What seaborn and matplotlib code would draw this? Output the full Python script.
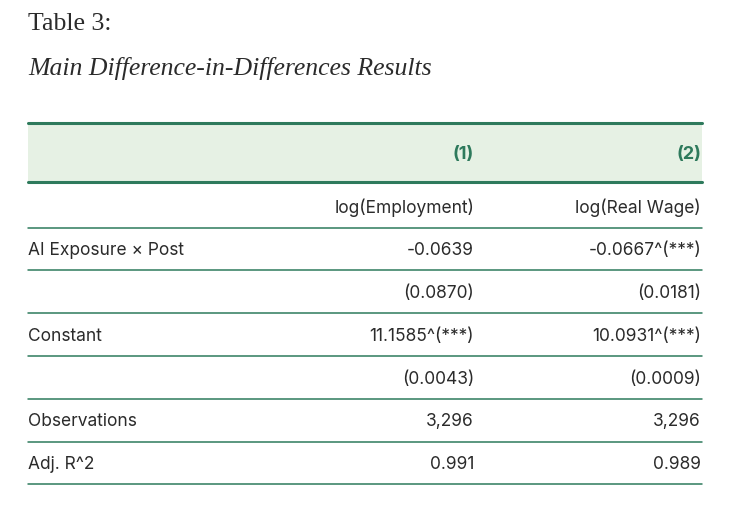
import matplotlib
matplotlib.use("Agg")
import matplotlib.pyplot as plt
import seaborn as sns

sns.set_style("white")
plt.rcParams['font.family'] = ['Inter', 'DejaVu Sans']

title = "Table 3:"
subtitle = "Main Difference-in-Differences Results"
col_headers = ["(1)", "(2)"]
row_labels = ["", "AI Exposure × Post", "", "Constant", "", "Observations", "Adj. R^2"]
col1 = ["log(Employment)", "-0.0639", "(0.0870)", "11.1585^(***)", "(0.0043)", "3,296", "0.991"]
col2 = ["log(Real Wage)", "-0.0667^(***)", "(0.0181)", "10.0931^(***)", "(0.0009)", "3,296", "0.989"]

green = "#2e7a5c"
band = "#e6f1e4"
text_c = "#2b2b2b"

fig = plt.figure(figsize=(7.3, 5.1), dpi=100)
ax = fig.add_axes([0, 0, 1, 1])
ax.set_xlim(0, 730); ax.set_ylim(510, 0); ax.axis("off")

ax.text(28, 24, title, fontsize=18.5, family="Liberation Serif", color=text_c, va="center")
ax.text(28, 68, subtitle, fontsize=18.5, family="Liberation Serif", style="italic", color=text_c, va="center")

L, R = 28, 702
x1, x2 = 474, 701
ax.fill_between([L, R], 124, 183, color=band, lw=0)
ax.plot([L, R], [124, 124], color=green, lw=2.2)
ax.plot([L, R], [183, 183], color=green, lw=2.2)
ax.text(x1, 155, col_headers[0], ha="right", va="center", fontsize=13, weight="bold", color=green)
ax.text(x2, 155, col_headers[1], ha="right", va="center", fontsize=13, weight="bold", color=green)

y0, dy = 208, 42.8
for i, (lab, a, b) in enumerate(zip(row_labels, col1, col2)):
    y = y0 + i * dy
    ax.text(L, y, lab, ha="left", va="center", fontsize=12.5, color=text_c)
    ax.text(x1, y, a, ha="right", va="center", fontsize=12.5, color=text_c)
    ax.text(x2, y, b, ha="right", va="center", fontsize=12.5, color=text_c)
    ly = y + 20.5
    ax.plot([L, R], [ly, ly], color=green, lw=1.1)

fig.savefig("out.png", dpi=100)
